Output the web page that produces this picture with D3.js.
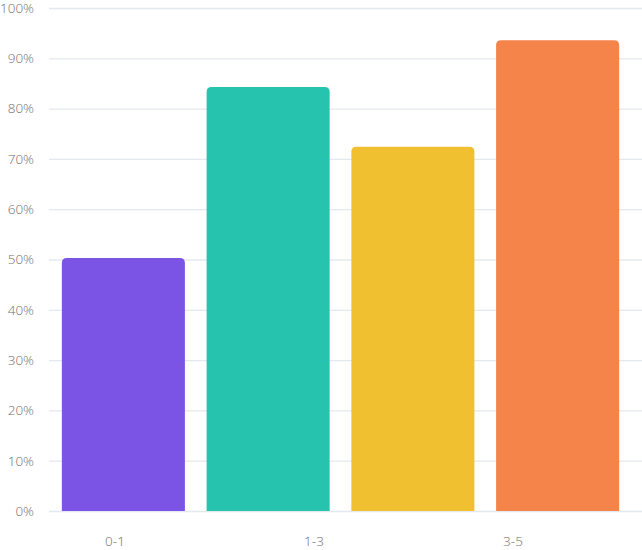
<!DOCTYPE html>
<html>
<head>
<meta charset="utf-8">
<script src="https://cdn.jsdelivr.net/npm/d3@7"></script>
<style>
  body { margin: 0; background: #fff; overflow: hidden; }
  text { font-family: "Open Sans", sans-serif; font-weight: 300; }
</style>
</head>
<body>
<div id="chart"></div>
<script>
// Data
const bars = ["A", "B", "C", "D"];
const values = [50.3, 84.3, 72.4, 93.6];
const colors = ["#7b54e6", "#26c3ae", "#f0c030", "#f4844a"];
const xLabels = ["0-1", "1-3", "3-5"];
const yTicks = [0, 10, 20, 30, 40, 50, 60, 70, 80, 90, 100];

const width = 642, height = 550;

const svg = d3.select("#chart")
  .append("svg")
  .attr("width", width)
  .attr("height", height)
  .style("display", "block");

const y = d3.scaleLinear().domain([0, 100]).range([511, 8]);

const x = d3.scaleBand()
  .domain(bars)
  .range([51, 630])
  .paddingInner(0.15)
  .paddingOuter(0.075);

const xl = d3.scalePoint().domain(xLabels).range([115, 513]);

// Grid lines
svg.append("g")
  .selectAll("line")
  .data(yTicks)
  .enter()
  .append("line")
  .attr("x1", 49)
  .attr("x2", width)
  .attr("y1", (d) => y(d) + 0.5)
  .attr("y2", (d) => y(d) + 0.5)
  .attr("stroke", "#e4e8ef")
  .attr("stroke-width", 1.3);

// Y labels
svg.append("g")
  .selectAll("text")
  .data(yTicks)
  .enter()
  .append("text")
  .attr("x", 34)
  .attr("y", (d) => y(d))
  .attr("dy", "0.36em")
  .attr("text-anchor", "end")
  .attr("fill", "#6f6f6f")
  .style("font-size", "13.5px")
  .text((d) => d + "%");

// Bars with rounded top corners
const r = 5;
svg.append("g")
  .selectAll("path")
  .data(values)
  .enter()
  .append("path")
  .attr("fill", (d, i) => colors[i])
  .attr("d", (d, i) => {
    const x0 = x(bars[i]), w = x.bandwidth();
    const y0 = y(d), y1 = y(0);
    return `M${x0},${y1}V${y0 + r}Q${x0},${y0} ${x0 + r},${y0}` +
      `H${x0 + w - r}Q${x0 + w},${y0} ${x0 + w},${y0 + r}V${y1}Z`;
  });

// X labels
svg.append("g")
  .selectAll("text")
  .data(xLabels)
  .enter()
  .append("text")
  .attr("x", (d) => xl(d))
  .attr("y", 546)
  .attr("text-anchor", "middle")
  .attr("fill", "#6f6f6f")
  .style("font-size", "13.5px")
  .text((d) => d);
</script>
</body>
</html>
